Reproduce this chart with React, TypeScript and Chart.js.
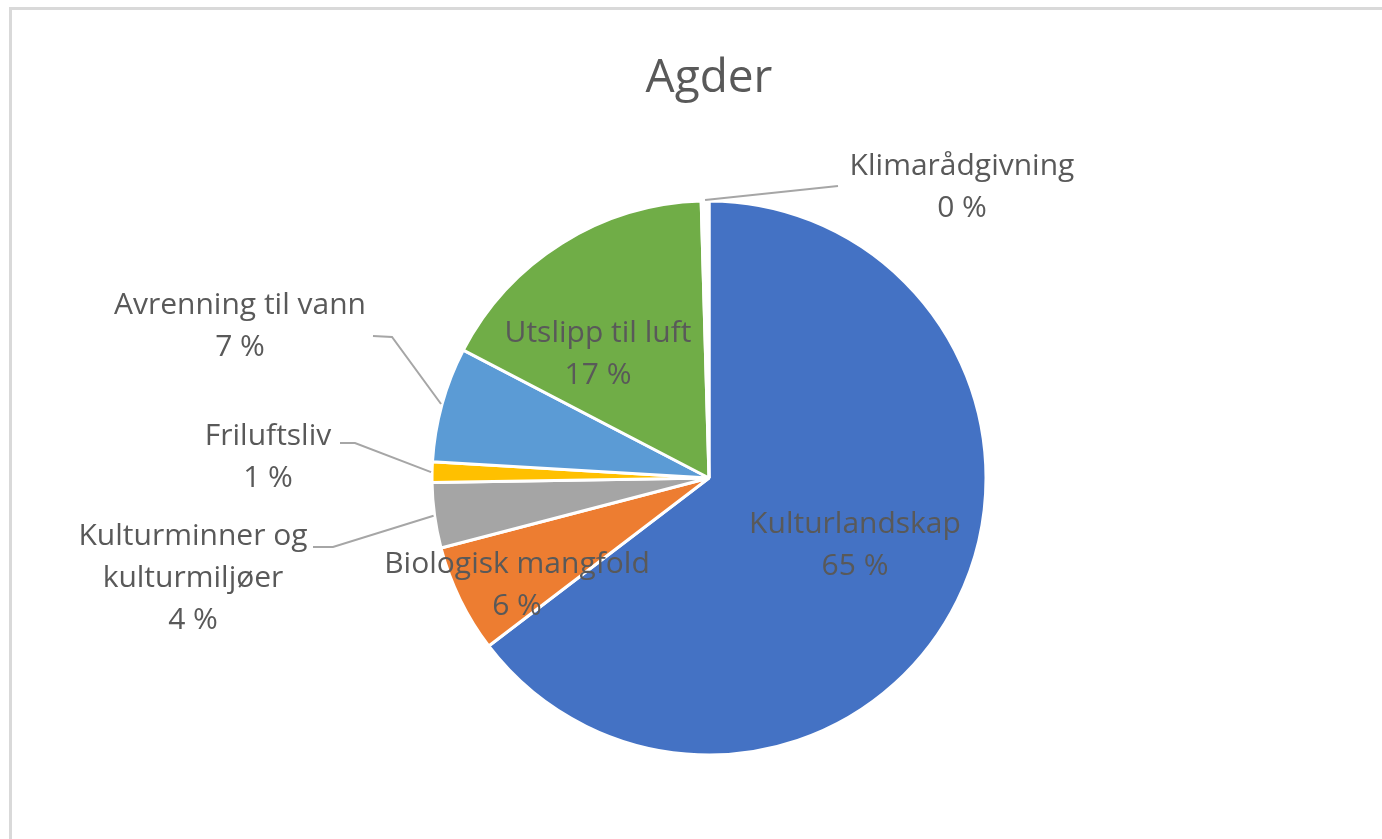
import React, { useEffect, useRef } from "react";
import { Chart, registerables } from "chart.js";

Chart.register(...registerables);

const chartTitle = "Agder";
const categories = [
  "Kulturlandskap",
  "Biologisk mangfold",
  "Kulturminner og kulturmiljøer",
  "Friluftsliv",
  "Avrenning til vann",
  "Utslipp til luft",
  "Klimarådgivning",
];
// label lines as shown in the picture
const labelLines = [
  ["Kulturlandskap"],
  ["Biologisk mangfold"],
  ["Kulturminner og", "kulturmiljøer"],
  ["Friluftsliv"],
  ["Avrenning til vann"],
  ["Utslipp til luft"],
  ["Klimarådgivning"],
];
const shares = [64.6, 6.3, 3.8, 1.2, 6.7, 16.9, 0.45];
const colors = ["#4472C4", "#ED7D31", "#A5A5A5", "#FFC000", "#5B9BD5", "#70AD47", "#FFFFFF"];

// label layout, relative to pie centre (px)
const labelOffsets: [number, number][] = [
  [146, 67],
  [-192, 107],
  [-516, 100],
  [-441, -21],
  [-469, -152],
  [-111, -124],
  [253, -291],
];
// leader lines: [end point, elbow point] relative to centre, or null
const leaders: ([number, number][] | null)[] = [
  null,
  null,
  [[-396, 69], [-376, 69]],
  [[-369, -35], [-354, -35]],
  [[-336, -142], [-317, -141]],
  null,
  [[129, -292]],
];

const FONT = '"Open Sans", "DejaVu Sans", sans-serif';
const TEXT = "#595959";

const labelPlugin = {
  id: "excelLabels",
  beforeDraw(chart: any) {
    const ctx = chart.ctx;
    ctx.save();
    ctx.fillStyle = "#ffffff";
    ctx.fillRect(0, 0, chart.width, chart.height);
    ctx.strokeStyle = "#D9D9D9";
    ctx.lineWidth = 3;
    ctx.beginPath();
    ctx.moveTo(10.5, chart.height + 5);
    ctx.lineTo(10.5, 8.5);
    ctx.lineTo(chart.width + 5, 8.5);
    ctx.stroke();
    ctx.restore();
  },
  afterDraw(chart: any) {
    const ctx = chart.ctx;
    const meta = chart.getDatasetMeta(0);
    const arc0 = meta.data[0];
    const cx = arc0.x;
    const cy = arc0.y;
    const total = shares.reduce((a, b) => a + b, 0);
    ctx.save();
    // title
    ctx.fillStyle = TEXT;
    ctx.font = `46px ${FONT}`;
    ctx.textAlign = "center";
    ctx.textBaseline = "alphabetic";
    ctx.fillText(chartTitle, cx, 92);

    meta.data.forEach((arc: any, i: number) => {
      const mid = (arc.startAngle + arc.endAngle) / 2;
      const r = arc.outerRadius;
      const lead = leaders[i];
      if (lead) {
        ctx.strokeStyle = "#A6A6A6";
        ctx.lineWidth = 2;
        ctx.beginPath();
        ctx.moveTo(cx + Math.cos(mid) * (r + 1), cy + Math.sin(mid) * (r + 1));
        for (let k = lead.length - 1; k >= 0; k--) {
          ctx.lineTo(cx + lead[k][0], cy + lead[k][1]);
        }
        ctx.stroke();
      }
      const pct = Math.round((shares[i] / total) * 100) + " %";
      const lines = [...labelLines[i], pct];
      const lh = 42;
      const [ox, oy] = labelOffsets[i];
      const top = cy + oy - ((lines.length - 1) * lh) / 2;
      ctx.fillStyle = TEXT;
      ctx.font = `30px ${FONT}`;
      ctx.textAlign = "center";
      ctx.textBaseline = "middle";
      lines.forEach((t, k) => ctx.fillText(t, cx + ox, top + k * lh));
    });
    ctx.restore();
  },
};

export default function App() {
  const ref = useRef<HTMLCanvasElement | null>(null);
  useEffect(() => {
    if (!ref.current) return;
    const chart = new Chart(ref.current, {
      type: "pie",
      data: {
        labels: categories,
        datasets: [
          {
            data: shares,
            backgroundColor: colors,
            borderColor: "#ffffff",
            borderWidth: 3,
            radius: 277,
          } as any,
        ],
      },
      options: {
        responsive: false,
        animation: false,
        layout: { padding: { left: 200, right: 164, top: 180, bottom: 63 } },
        plugins: {
          legend: { display: false },
          tooltip: { enabled: false },
          title: { display: false },
        },
      },
      plugins: [labelPlugin],
    });
    return () => chart.destroy();
  }, []);
  return (
    <div style={{ position: "fixed", left: 0, top: 0, width: 1382, height: 839, background: "#fff" }}>
      <canvas ref={ref} width={1382} height={839} style={{ display: "block" }} />
    </div>
  );
}
